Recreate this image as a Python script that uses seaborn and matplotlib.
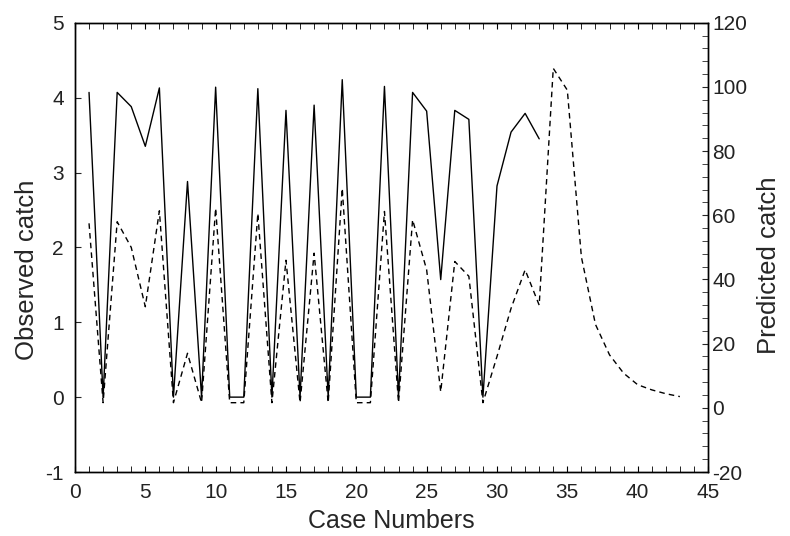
import matplotlib
matplotlib.use("Agg")
import matplotlib.pyplot as plt
from matplotlib.ticker import MultipleLocator
import pandas as pd
import seaborn as sns

# observed catch (left axis), cases 1-33
cases_observed = list(range(1, 34))
observed_catch = [4.07, 0, 4.07, 3.88, 3.35, 4.13, 0, 2.88, 0, 4.14,
                  0, 0, 4.12, 0, 3.83, 0, 3.90, 0, 4.24, 0,
                  0, 4.15, 0, 4.07, 3.82, 1.57, 3.83, 3.71, 0, 2.82,
                  3.54, 3.79, 3.45]

# predicted catch (right axis), cases 1-43
cases_predicted = list(range(1, 44))
predicted_catch = [57.5, 1.6, 58, 50, 31.5, 61.4, 1.6, 17, 1.6, 62.2,
                   1.6, 1.6, 60.6, 1.6, 46, 1.6, 48.2, 1.6, 68.4, 1.6,
                   1.6, 61.2, 1.6, 58.6, 43, 5, 45.6, 41, 1.6, 16,
                   31, 43, 32, 105.8, 99, 47, 26, 16.5, 10.8, 7.2,
                   5.6, 4.4, 3.5]

obs_df = pd.DataFrame({'case': cases_observed, 'catch': observed_catch})
pred_df = pd.DataFrame({'case': cases_predicted, 'catch': predicted_catch})

sns.set_style("white")
plt.rcParams['font.family'] = ['Liberation Sans', 'DejaVu Sans']
plt.rcParams['axes.unicode_minus'] = False

fig = plt.figure(figsize=(7.9, 5.36), dpi=100)
ax = fig.add_axes([0.0949, 0.1194, 0.8013, 0.8381])
ax2 = ax.twinx()

sns.lineplot(data=obs_df, x='case', y='catch', ax=ax, color='black',
             linewidth=1, errorbar=None)
sns.lineplot(data=pred_df, x='case', y='catch', ax=ax2, color='black',
             linewidth=1, linestyle=(0, (4, 3)), errorbar=None)

ax.set_xlim(0, 45)
ax.set_ylim(-1, 5)
ax2.set_ylim(-20, 120)

ax.xaxis.set_major_locator(MultipleLocator(5))
ax.xaxis.set_minor_locator(MultipleLocator(1))
ax.yaxis.set_major_locator(MultipleLocator(1))
ax2.yaxis.set_major_locator(MultipleLocator(20))
ax2.yaxis.set_minor_locator(MultipleLocator(4))

ax.tick_params(axis='x', which='both', direction='in', length=4, top=True,
               bottom=True, labelsize=15, pad=8, color='black',
               labelcolor='#222222')
ax.tick_params(axis='y', which='both', direction='in', length=4, left=True,
               right=False, labelsize=15, pad=8, labelcolor='#222222')
ax2.tick_params(axis='y', which='both', direction='in', length=4,
                right=True, left=False, labelsize=15, pad=3,
                labelcolor='#222222')

ax.set_xlabel('Case Numbers', fontsize=18, labelpad=5)
ax.set_ylabel('Observed catch', fontsize=18.5)
ax2.set_ylabel('Predicted catch', fontsize=18.5)
ax.yaxis.set_label_coords(-0.057, 0.45)
ax2.yaxis.set_label_coords(1.078, 0.46)

for a in (ax, ax2):
    for spine in a.spines.values():
        spine.set_color('black')
        spine.set_linewidth(1)

fig.savefig('out.png', dpi=100, facecolor='white')
